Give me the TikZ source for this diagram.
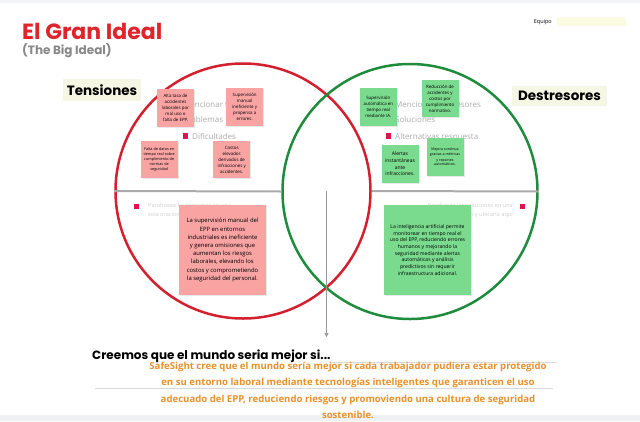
\documentclass[tikz,border=0pt]{standalone}
\usepackage{fontspec}
\setmainfont{Open Sans}
\newfontfamily\popfont{Poppins}
\usepackage{xcolor}
\usetikzlibrary{arrows.meta, positioning, calc, shadows}
\hyphenpenalty=10000
\exhyphenpenalty=10000
\definecolor{cTitle}{RGB}{224,36,44}
\definecolor{cSub}{RGB}{135,135,135}
\definecolor{cRed}{RGB}{211,32,46}
\definecolor{cGreen}{RGB}{30,140,60}
\definecolor{cNoteR}{RGB}{249,163,163}
\definecolor{cNoteG}{RGB}{122,218,141}
\definecolor{cTag}{RGB}{246,246,228}
\definecolor{cField}{RGB}{251,251,228}
\definecolor{cGhost}{RGB}{172,172,172}
\definecolor{cGhostL}{RGB}{208,208,208}
\definecolor{cBullet}{RGB}{226,18,78}
\definecolor{cOrange}{RGB}{232,145,42}
\definecolor{cBand}{RGB}{240,241,243}
\tikzset{
	ring/.style     ={circle, line width=2.5pt, minimum size=255pt, inner sep=0pt},
	note/.style     ={rectangle, fill=cNoteR, minimum width=37pt, minimum height=37.5pt, inner sep=2pt, align=center, font=\fontsize{4.4}{6}\selectfont, drop shadow={opacity=0.18, shadow xshift=1pt, shadow yshift=-1pt}},
	gnote/.style    ={note, fill=cNoteG},
	bignote/.style  ={note, minimum width=87pt, minimum height=90pt, font=\fontsize{5.9}{8.2}\selectfont},
	tag/.style      ={rectangle, fill=cTag, inner sep=0pt, font=\popfont\bfseries\fontsize{13.5}{15}\selectfont},
	ghost/.style    ={inner sep=0pt, text=cGhost, font=\fontsize{8}{9}\selectfont},
	ghostl/.style   ={inner sep=0pt, text=cGhostL, font=\fontsize{5.6}{9}\selectfont},
	bullet/.style   ={rectangle, fill=cBullet, minimum size=5.5pt, inner sep=0pt},
	divider/.style  ={line width=2pt, draw=black!33},
	flow/.style     ={-{Triangle[length=4pt, width=4pt]}, draw=black!40, line width=0.6pt},
	rule/.style     ={draw=black!15, line width=0.6pt},
}

\begin{document}
\begin{tikzpicture}[x=1pt, y=1pt]
	\useasboundingbox (0,0) rectangle (640,-421);
	\fill[white] (0,0) rectangle (640,-421);
	\fill[cBand!80] (0,0) rectangle (640,-2.5);
	\fill[cBand] (0,-415) rectangle (640,-421);
	% header
	\node[anchor=base west, inner sep=0pt, text=cTitle, font=\popfont\bfseries\fontsize{22}{24}\selectfont] (title) at (22,-39.5) {El Gran Ideal};
	\node[anchor=base west, inner sep=0pt, text=cSub, font=\popfont\bfseries\fontsize{12}{14}\selectfont] (subtitle) at (22,-54) {(The Big Ideal)};
	\node[anchor=base east, inner sep=0pt, font=\fontsize{5.5}{6}\selectfont] (team-lbl) at (552,-23.5) {Equipo};
	\node[rectangle, fill=cField, minimum width=69pt, minimum height=9pt, inner sep=0pt, anchor=west] (team-box) at (557,-21.5) {};
	% the two circles
	\node[ring, draw=cRed] (tens) at (243,-191) {};
	\node[ring, draw=cGreen] (dest) at (410,-191.5) {};
	\draw[divider] (tens.west) -- (dest.west);
	\draw[divider] (tens.east) -- (dest.east);
	\coordinate (drop) at ($(tens.east)!0.5!(dest.west)$);
	\coordinate (drop-end) at (326.5,-337);
	\draw[flow] (drop) -- (drop-end);
	\node[tag, minimum width=78pt, minimum height=22pt] (tens-tag) at (102,-90) {Tensiones};
	\node[tag, minimum width=95pt, minimum height=20pt] (dest-tag) at (559.5,-95.5) {Destresores};
	% template hints left
	\node[ghost, anchor=base west] (hint-l1) at (183,-107.5) {Mencionar tensiones};
	\node[ghost, anchor=base west] (hint-l2) at (183,-122.5) {Problemas};
	\node[bullet] (bul-l1) at (185.5,-136) {};
	\node[ghost, anchor=base west] (hint-l3) at (192,-139) {Dificultades};
	\node[bullet] (bul-l2) at (136.5,-206.5) {};
	\node[ghostl, anchor=north west, align=left] (hint-l4) at (148,-203) {Parafrasea las tensiones en una\\sola oración y ubícala aquí};
	% template hints right
	\node[ghost, anchor=base west] (hint-r1) at (395,-107.5) {Mencionar destresores};
	\node[ghost, anchor=base west] (hint-r2) at (395,-122.5) {Soluciones};
	\node[bullet] (bul-r1) at (388.5,-136) {};
	\node[ghost, anchor=base west] (hint-r3) at (395,-139) {Alternativas respuesta};
	\node[bullet] (bul-r2) at (522.5,-206.5) {};
	\node[ghostl, anchor=north east, align=right] (hint-r4) at (513,-203) {Parafrasea las soluciones en una\\sola oración y ubícarla aquí};
	% tensiones notes
	\node[note] (t1) at (175.5,-108) {Alta tasa de\\accidentes\\laborales por\\mal uso o\\falta de EPP.};
	\node[note] (t2) at (244.7,-107.2) {Supervisión\\manual\\ineficiente y\\propensa a\\errores.};
	\node[note, font=\fontsize{3.8}{4.9}\selectfont] (t3) at (159.2,-159.5) {Falta de datos en\\tiempo real sobre\\cumplimiento de\\normas de\\seguridad};
	\node[note] (t4) at (231.7,-159.5) {Costos\\elevados\\derivados de\\infracciones y\\accidentes.};
	\node[bignote] (t-sum) at (222.5,-250) {La supervisión manual del\\EPP en entornos\\industriales es ineficiente\\y genera omisiones que\\aumentan los riesgos\\laborales, elevando los\\costos y comprometiendo\\la seguridad del personal.};
	% destresores notes
	\node[gnote] (d1) at (378.3,-106.8) {Supervisión\\automática en\\tiempo real\\mediante IA.};
	\node[gnote] (d2) at (440,-98.7) {Reducción de\\accidentes y\\costos por\\cumplimiento\\normativo.};
	\node[gnote, font=\fontsize{5}{6.7}\selectfont] (d3) at (400,-163.8) {Alertas\\instantáneas\\ante\\infracciones.};
	\node[gnote, font=\fontsize{3.6}{5}\selectfont] (d4) at (445,-157.2) {Mejora continua\\gracias a métricas\\y reportes\\automáticos.};
	\node[bignote, fill=cNoteG, font=\fontsize{5.1}{6.7}\selectfont] (d-sum) at (427.5,-250) {La inteligencia artificial permite\\monitorear en tiempo real el\\uso del EPP, reduciendo errores\\humanos y mejorando la\\seguridad mediante alertas\\automáticas y análisis\\predictivos sin requerir\\infraestructura adicional.};
	% closing statement
	\node[anchor=base west, inner sep=0pt, font=\popfont\bfseries\fontsize{12}{14}\selectfont] (believe) at (92,-359) {Creemos que el mundo seria mejor si...};
	\coordinate (rule1-end) at (557,-362);
	\draw[rule] (believe.base east |- rule1-end) -- (rule1-end);
	\coordinate (rule2-a) at (95,-388);
	\coordinate (rule2-b) at (553,-388);
	\draw[rule] (rule2-a) -- (rule2-b);
	\node[anchor=north, align=center, inner sep=0pt, text=cOrange, font=\bfseries\fontsize{9.6}{16.3}\selectfont] (vision) at (348,-362) {SafeSight cree que el mundo sería mejor si cada trabajador pudiera estar protegido\\en su entorno laboral mediante tecnologías inteligentes que garanticen el uso\\adecuado del EPP, reduciendo riesgos y promoviendo una cultura de seguridad\\sostenible.};
\end{tikzpicture}
\end{document}
